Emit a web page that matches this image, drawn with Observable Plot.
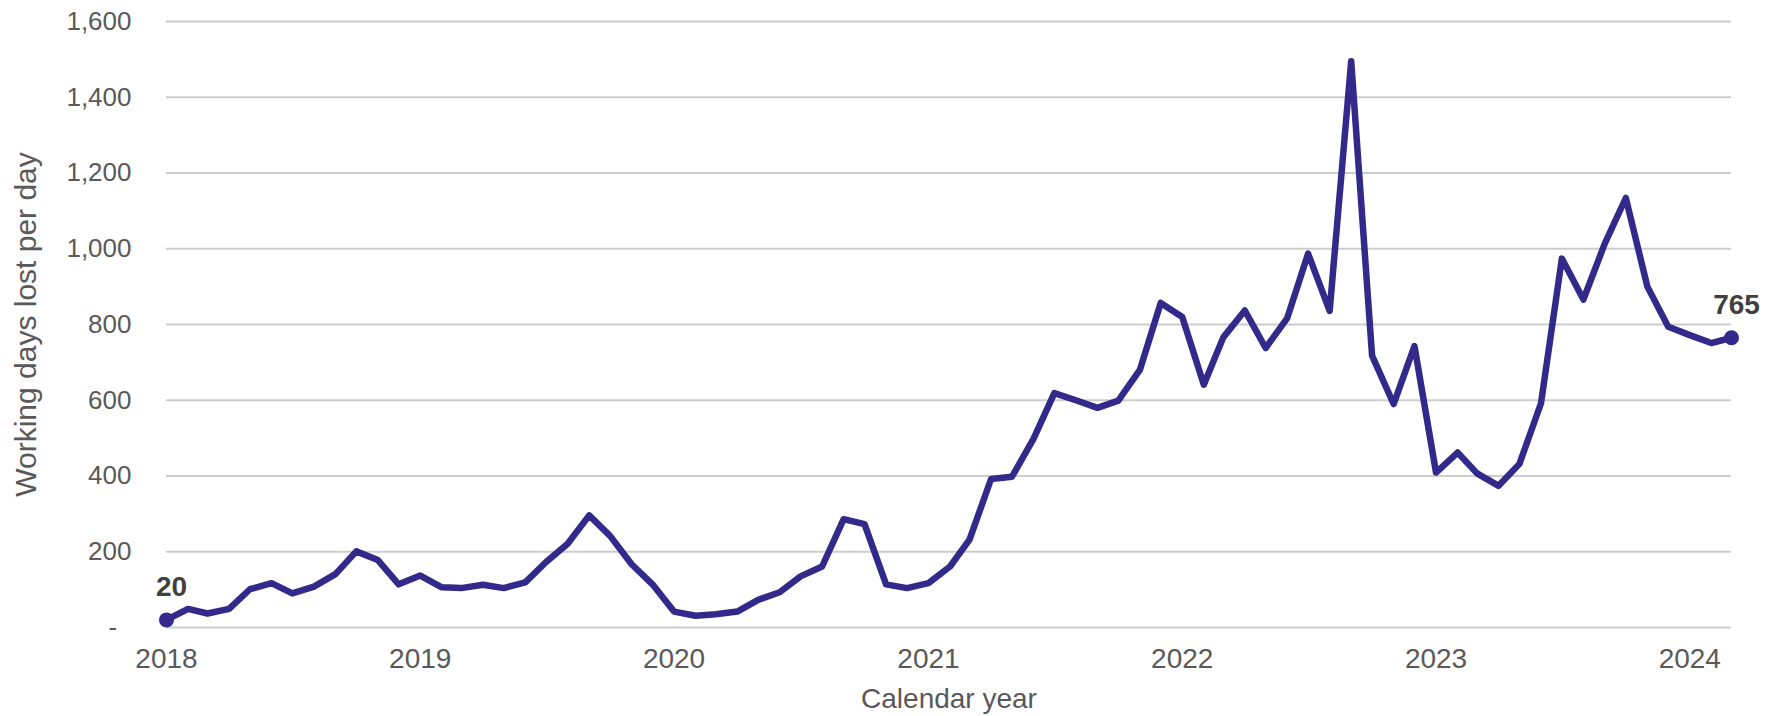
<!DOCTYPE html>
<html>
<head>
<meta charset="utf-8">
<script src="https://cdn.jsdelivr.net/npm/d3@7"></script>
<script src="https://cdn.jsdelivr.net/npm/@observablehq/plot@0.6"></script>
<style>
  html, body { margin: 0; padding: 0; background: #ffffff; }
</style>
</head>
<body>
<div id="chart"></div>
<script>
// Working days lost per day, monthly (Jan 2018 – Mar 2024)
const v2018 = [20, 49, 37, 49, 101, 117, 90, 108, 141, 201, 178, 114];
const v2019 = [137, 106, 104, 113, 104, 119, 173, 221, 296, 242, 167, 114];
const v2020 = [42, 31, 35, 42, 73, 93, 135, 161, 286, 273, 114, 104];
const v2021 = [117, 161, 232, 392, 398, 498, 619, 600, 580, 599, 680, 857];
const v2022 = [820, 641, 766, 837, 738, 817, 987, 836, 1495, 718, 590, 743];
const v2023 = [409, 462, 407, 374, 432, 592, 974, 866, 1015, 1134, 900, 794];
const v2024 = [772, 751, 765];

const seriesYears = [2018, 2019, 2020, 2021, 2022, 2023, 2024];
const seriesValues = [v2018, v2019, v2020, v2021, v2022, v2023, v2024];

const xTickYears = [2018, 2019, 2020, 2021, 2022, 2023, 2024];
const yTicks = [0, 200, 400, 600, 800, 1000, 1200, 1400, 1600];

const yTitle = "Working days lost per day";
const xTitle = "Calendar year";

// Build table
const data = [];
seriesYears.forEach((yr, i) => {
  seriesValues[i].forEach((v, m) => data.push({date: new Date(Date.UTC(yr, m, 1)), value: v}));
});
const ends = [data[0], data[data.length - 1]];
const xTickDates = xTickYears.map(y => new Date(Date.UTC(y, 0, 1)));

const lineColor = "#33298a";
const fmt = d3.format(",");

const chart = Plot.plot({
  width: 1767,
  height: 716,
  marginTop: 21,
  marginBottom: 89,
  marginLeft: 166,
  marginRight: 36,
  style: {
    fontFamily: "'Liberation Sans', Arial, sans-serif",
    fontSize: "28px",
    color: "#595959",
    background: "#ffffff"
  },
  x: {type: "utc", domain: [data[0].date, data[data.length - 1].date]},
  y: {domain: [0, 1600]},
  marks: [
    Plot.gridY(yTicks, {stroke: "#cccccc", strokeWidth: 2, strokeOpacity: 1}),
    Plot.axisY(yTicks, {
      tickSize: 0,
      tickPadding: 35,
      fontSize: 26,
      label: null,
      tickFormat: d => d === 0 ? "-\u00a0\u00a0" : fmt(d),
      fill: "#595959"
    }),
    Plot.axisY({
      ticks: [],
      tickSize: 0,
      label: yTitle,
      labelAnchor: "center",
      labelArrow: "none",
      labelOffset: 152,
      fontSize: 30,
      fill: "#595959"
    }),
    Plot.axisX(xTickDates, {
      tickSize: 0,
      tickPadding: 21,
      tickFormat: d3.utcFormat("%Y"),
      label: xTitle,
      labelAnchor: "center",
      labelArrow: "none",
      labelOffset: 80,
      fill: "#595959"
    }),
    Plot.line(data, {x: "date", y: "value", stroke: lineColor, strokeWidth: 6.5}),
    Plot.dot(ends, {x: "date", y: "value", r: 7.5, fill: lineColor}),
    Plot.text(ends, {
      x: "date", y: "value", text: d => fmt(d.value),
      fontWeight: "bold", fill: "#404040", fontSize: 28,
      lineAnchor: "bottom", dy: -24, dx: 5
    })
  ]
});

document.getElementById("chart").appendChild(chart);
</script>
</body>
</html>
